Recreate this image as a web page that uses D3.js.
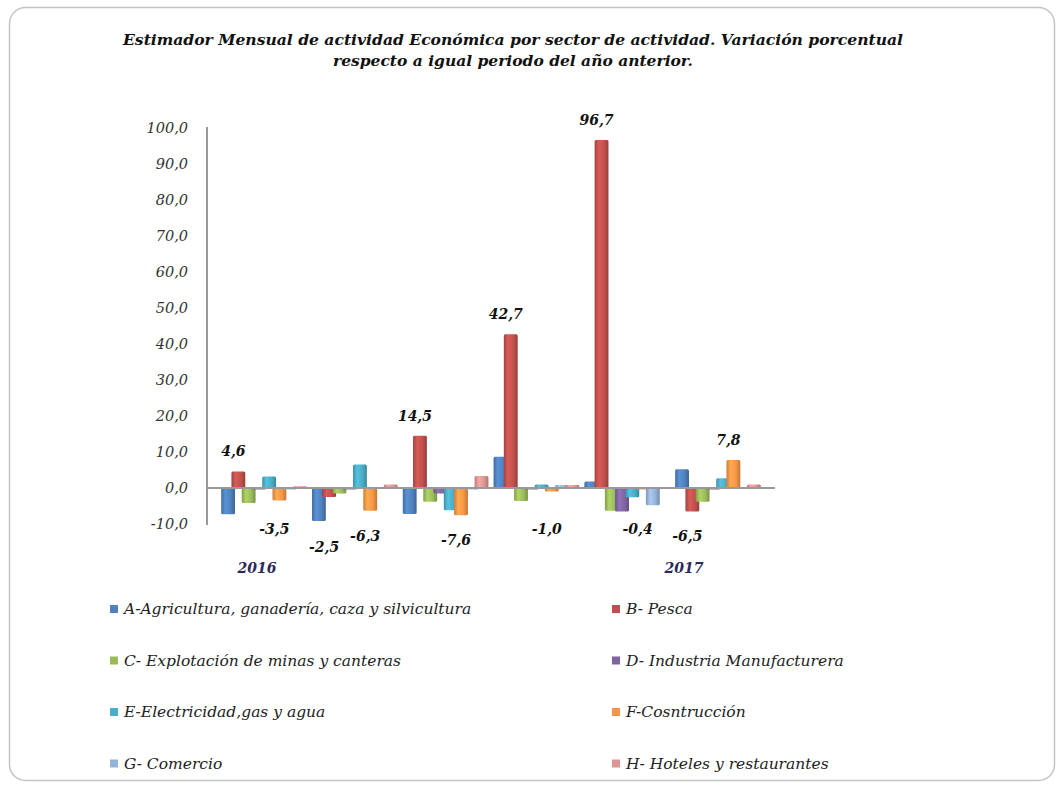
<!DOCTYPE html>
<html><head><meta charset="utf-8">
<script src="https://cdn.jsdelivr.net/npm/d3@7"></script>
<style>body{margin:0;background:#fff}svg{display:block}</style>
</head><body>
<script>
// ---- data ----
const periods = ["P1","P2","P3","P4","P5","P6"];
const periodLabels = ["2016","","","","","2017"];
const periodLabelShift = [-7,0,0,0,0,-34];
const seriesNames = [
  "A-Agricultura, ganadería, caza y silvicultura",
  "B- Pesca",
  "C- Explotación de minas y canteras",
  "D- Industria Manufacturera",
  "E-Electricidad,gas y agua",
  "F-Cosntrucción",
  "G- Comercio",
  "H- Hoteles y restaurantes"
];
const seriesColors = ["#4F81BD","#C0504D","#9BBB59","#8064A2","#4BACC6","#F79646","#95B3D7","#DA9694"];
const serA = [-7.3, -9.2, -7.2, 8.7, 1.8, 5.2];
const serB = [4.6, -2.5, 14.5, 42.7, 96.7, -6.5];
const serC = [-4.2, -1.5, -3.8, -3.6, -6.3, -3.8];
const serD = [-0.4, -0.3, -1.5, -0.3, -6.5, -0.3];
const serE = [3.2, 6.5, -6.2, 1.0, -2.6, 2.7];
const serF = [-3.5, -6.3, -7.6, -1.0, -0.4, 7.8];
const serG = [-0.3, 0.3, -0.2, 0.8, -4.8, 0.2];
const serH = [0.5, 1.0, 3.3, 0.8, 0.3, 1.0];
const seriesValues = [serA, serB, serC, serD, serE, serF, serG, serH];
const labeledSeries = [1, 5];
const labelExtraDy = {"1-1": 18};
const yTicks = [-10,0,10,20,30,40,50,60,70,80,90,100];
const titleLines = ["Estimador Mensual de actividad Económica por sector de actividad. Variación porcentual",
                    "respecto a igual periodo del año anterior."];

const fmt = v => d3.format(".1f")(v).replace(".", ",").replace("\u2212", "-");

// ---- layout ----
const W = 1063, H = 785;
const svg = d3.select("body").append("svg").attr("width", W).attr("height", H);
const defs = svg.append("defs");

svg.append("rect").attr("x", 9.5).attr("y", 7.5).attr("width", 1045).attr("height", 773)
  .attr("rx", 16).attr("fill", "#fff").attr("stroke", "#c4c4c4").attr("stroke-width", 1.5);

const y = d3.scaleLinear().domain([-10, 100]).range([524, 128]);
const x0 = d3.scaleBand().domain(periods).range([207, 775]).paddingInner(0.096).paddingOuter(0.176);
const x1 = d3.scaleBand().domain(d3.range(seriesNames.length)).range([0, x0.bandwidth()]);

// gradients
seriesColors.forEach((c, i) => {
  const g = defs.append("linearGradient").attr("id", "g" + i).attr("x1", "0").attr("x2", "1").attr("y1", "0").attr("y2", "0");
  const base = d3.color(c);
  g.append("stop").attr("offset", "0%").attr("stop-color", base.darker(0.5));
  g.append("stop").attr("offset", "30%").attr("stop-color", base.brighter(0.35));
  g.append("stop").attr("offset", "70%").attr("stop-color", base);
  g.append("stop").attr("offset", "100%").attr("stop-color", base.darker(0.7));
});

// title
const title = svg.append("g").attr("font-family", "DejaVu Serif").attr("font-style", "italic")
  .attr("font-weight", "bold").attr("font-size", 14).attr("fill", "#111").attr("text-anchor", "middle");
title.append("text").attr("x", 513).attr("y", 45).attr("textLength", 780).attr("lengthAdjust", "spacingAndGlyphs").text(titleLines[0]);
title.append("text").attr("x", 513).attr("y", 66).attr("textLength", 360).attr("lengthAdjust", "spacingAndGlyphs").text(titleLines[1]);

// y axis
const yAxis = svg.append("g").attr("transform", "translate(207,0)")
  .call(d3.axisLeft(y).tickValues(yTicks).tickSize(0).tickPadding(19).tickFormat(fmt));
yAxis.select(".domain").attr("stroke", "#999").attr("stroke-width", 2).attr("d", "M0,127V525");
yAxis.selectAll("text").attr("font-family", "DejaVu Serif").attr("font-style", "italic")
  .attr("font-size", 14.5).attr("fill", "#333");

// bars
const bars = svg.append("g");
periods.forEach((p, pi) => {
  seriesValues.forEach((vals, si) => {
    const v = vals[pi];
    const bw = x1.bandwidth() * 1.35;
    const bx = x0(p) + x1(si) + x1.bandwidth() / 2 - bw / 2;
    bars.append("rect")
      .attr("x", bx).attr("width", bw)
      .attr("y", Math.min(y(v), y(0))).attr("height", Math.max(1.5, Math.abs(y(v) - y(0))))
      .attr("rx", 1.5)
      .attr("fill", "url(#g" + si + ")");
  });
});

// baseline
svg.append("line").attr("x1", 207).attr("x2", 775).attr("y1", y(0)).attr("y2", y(0))
  .attr("stroke", "#999").attr("stroke-width", 2);

// data labels
const labels = svg.append("g").attr("font-family", "DejaVu Serif").attr("font-style", "italic")
  .attr("font-weight", "bold").attr("font-size", 14).attr("fill", "#111").attr("text-anchor", "middle");
labeledSeries.forEach(si => {
  periods.forEach((p, pi) => {
    const v = seriesValues[si][pi];
    const cx = x0(p) + x1(si) + x1.bandwidth() / 2 - 5;
    let cy = v >= 0 ? y(v) - 20 : Math.max(y(v) + 25, 529);
    cy += labelExtraDy[si + "-" + pi] || 0;
    labels.append("text").attr("x", cx).attr("y", cy).attr("dy", "0.35em").text(fmt(v));
  });
});

// period labels
svg.append("g").selectAll("text").data(periods).join("text")
  .attr("x", (p, i) => x0(p) + x0.bandwidth() / 2 + periodLabelShift[i])
  .attr("y", 573)
  .attr("text-anchor", "middle").attr("font-family", "DejaVu Serif").attr("font-style", "italic")
  .attr("font-weight", "bold").attr("font-size", 14).attr("fill", "#2a2a5a")
  .text((p, i) => periodLabels[i]);

// legend
const legend = svg.append("g");
seriesNames.forEach((n, i) => {
  const col = i % 2, row = Math.floor(i / 2);
  const lx = col === 0 ? 110 : 612;
  const ly = 609 + row * 51.5;
  legend.append("rect").attr("x", lx).attr("y", ly - 4).attr("width", 8).attr("height", 8).attr("fill", seriesColors[i]);
  legend.append("text").attr("x", lx + 14).attr("y", ly).attr("dy", "0.35em")
    .attr("font-family", "DejaVu Serif").attr("font-style", "italic").attr("font-size", 15.5).attr("fill", "#222")
    .text(n);
});
</script>
</body></html>
